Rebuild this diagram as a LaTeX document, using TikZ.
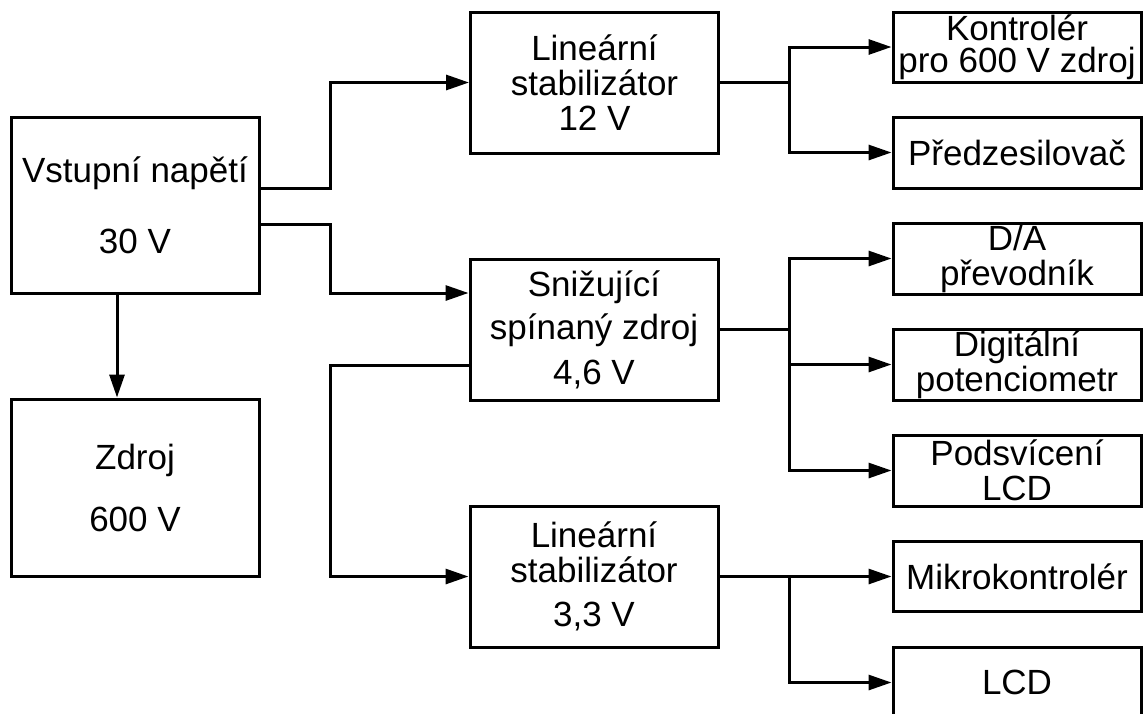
\documentclass[tikz,border=0pt]{standalone}
\usepackage{fontspec}
\setmainfont{Liberation Sans}
\usetikzlibrary{arrows.meta,positioning}

\begin{document}
\begin{tikzpicture}[x=1pt,y=-1pt,
    block/.style={draw,line width=3pt,inner sep=0pt,align=center,
      minimum width=248pt,font=\fontsize{35}{35}\selectfont},
    wire/.style={line width=3pt},
    feed/.style={wire,-{Triangle[length=23pt,width=15pt]}}]
    \useasboundingbox (0,0) rectangle (1143,713);

    % Input and high voltage supply
    \node[block,minimum height=176pt] (vstup) at (135,205) {Vstupní napětí\\[36pt]30 V};
    \node[block,minimum height=177pt] (zdroj) at (135,487.5) {Zdroj\\[27pt]600 V};

    % Regulators
    \node[block,minimum height=141pt] (lin12) at (594.5,82.5) {Lineární\\stabilizátor\\12 V};
    \node[block,minimum height=141pt] (buck) at (594,329.5) {Snižující\\[8pt]spínaný zdroj\\[10pt]4,6 V};
    \node[block,minimum height=141pt] (lin33) at (594,576.5) {Lineární\\stabilizátor\\[9pt]3,3 V};

    % Loads
    \node[block,minimum height=70pt] (kontroler) at (1017,47) {Kontrolér\\[-3pt]pro 600 V zdroj};
    \node[block,minimum height=71pt] (predzes) at (1017,152.5) {Předzesilovač};
    \node[block,minimum height=71pt] (dac) at (1017,258.5) {D/A\\převodník};
    \node[block,minimum height=71pt] (digipot) at (1017,364.5) {Digitální\\potenciometr};
    \node[block,minimum height=71pt] (podsvic) at (1017,470.5) {Podsvícení\\LCD};
    \node[block,minimum height=70pt] (mikro) at (1017,576.5) {Mikrokontrolér};
    \node[block,minimum height=71pt] (lcd) at (1017,682.5) {LCD};

    % Bus lines
    \coordinate (busL) at (330,0);
    \coordinate (busR) at (789,0);

    % Input side
    \draw[feed] (vstup.east |- 0,188) -| (busL |- lin12) -- (lin12.west);
    \draw[feed] (vstup.east |- 0,224) -| (busL |- 0,293) -- (buck.west |- 0,293);
    \draw[feed] (buck.west |- 0,365) -| (busL |- lin33) -- (lin33.west);
    \draw[feed] (vstup.south -| 117,0) -- (zdroj.north -| 117,0);

    % 12 V branch
    \draw[feed] (lin12.east) -| (busR |- kontroler) -- (kontroler.west);
    \draw[feed] (busR |- lin12) |- (predzes.west);

    % 4,6 V branch
    \draw[wire] (buck.east) -- (busR |- buck);
    \draw[feed] (busR |- buck) |- (dac.west);
    \draw[feed] (busR |- buck) |- (podsvic.west);
    \draw[feed] (busR |- digipot) -- (digipot.west);

    % 3,3 V branch
    \draw[feed] (lin33.east) -- (mikro.west);
    \draw[feed] (busR |- lin33) |- (lcd.west);
\end{tikzpicture}
\end{document}
